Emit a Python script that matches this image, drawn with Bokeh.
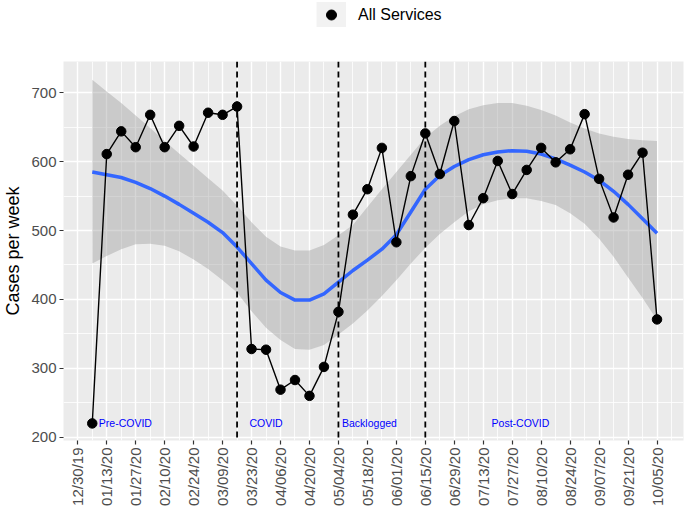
import math
import pandas as pd
from bokeh.plotting import figure
from bokeh.layouts import column
from bokeh.models import (FixedTicker, Span, Legend, LegendItem, ColumnDataSource, Range1d)
from bokeh.core.properties import value
from bokeh.embed import file_html
from bokeh.resources import INLINE

# ---------------- data ----------------
week_dates = ["01/06/20", "01/13/20", "01/20/20", "01/27/20", "02/03/20", "02/10/20",
              "02/17/20", "02/24/20", "03/02/20", "03/09/20", "03/16/20", "03/23/20",
              "03/30/20", "04/06/20", "04/13/20", "04/20/20", "04/27/20", "05/04/20",
              "05/11/20", "05/18/20", "05/25/20", "06/01/20", "06/08/20", "06/15/20",
              "06/22/20", "06/29/20", "07/06/20", "07/13/20", "07/20/20", "07/27/20",
              "08/03/20", "08/10/20", "08/17/20", "08/24/20", "08/31/20", "09/07/20",
              "09/14/20", "09/21/20", "09/28/20", "10/05/20"]
cases = [220, 611, 644, 621, 668, 621, 652, 622, 671, 668, 680, 328, 327, 269, 283, 260,
         302, 382, 523, 560, 620, 483, 579, 641, 582, 659, 508, 547, 601, 553, 588, 620,
         599, 618, 669, 575, 519, 581, 613, 371]
smooth_fit = [585, 581, 577, 570, 561, 550, 538, 525, 512, 497, 476, 452, 428, 410, 399,
              399, 408, 425, 442, 457, 473, 494, 527, 560, 580, 593, 603, 610, 614, 616,
              615, 611, 604, 595, 585, 573, 557, 538, 517, 496]
smooth_lower = [452, 463, 473, 480, 481, 478, 470, 458, 444, 428, 410, 383, 359, 341, 328,
                327, 334, 349, 365, 384, 405, 428, 452, 475, 495, 512, 528, 538, 544, 547,
                547, 543, 537, 525, 510, 488, 462, 432, 402, 370]
smooth_upper = [719, 702, 685, 667, 649, 630, 612, 594, 576, 558, 536, 512, 491, 477, 471,
                471, 479, 493, 508, 534, 560, 585, 610, 635, 652, 666, 676, 682, 685, 685,
                681, 675, 667, 657, 648, 641, 636, 633, 631, 630]

tick_labels = ["12/30/19", "01/13/20", "01/27/20", "02/10/20", "02/24/20", "03/09/20",
               "03/23/20", "04/06/20", "04/20/20", "05/04/20", "05/18/20", "06/01/20",
               "06/15/20", "06/29/20", "07/13/20", "07/27/20", "08/10/20", "08/24/20",
               "09/07/20", "09/21/20", "10/05/20"]
y_ticks = [200, 300, 400, 500, 600, 700]
y_minor = [250, 350, 450, 550, 650]

phase_breaks = ["03/16/20", "05/04/20", "06/15/20"]
phase_names = ["Pre-COVID", "COVID", "Backlogged", "Post-COVID"]
phase_label_dates = ["01/22/20", "03/30/20", "05/19/20", "07/31/20"]
phase_label_y = [220, 220, 220, 220]

legend_label = "All Services"

FONT = "Liberation Sans"
origin = pd.Timestamp("2019-12-30")


def to_days(strs):
    return [float((pd.to_datetime(s, format="%m/%d/%y") - origin).days) for s in strs]


x = to_days(week_dates)
tick_x = to_days(tick_labels)
minor_x = [t + 7 for t in tick_x]
break_x = to_days(phase_breaks)
label_x = to_days(phase_label_dates)

src = ColumnDataSource(dict(x=x, cases=cases, fit=smooth_fit,
                            lower=smooth_lower, upper=smooth_upper))

# ---------------- main plot ----------------
p = figure(width=685, height=452, output_backend="svg", toolbar_location=None,
           x_range=Range1d(-6.9, 292.8), y_range=Range1d(195.2, 745.4),
           min_border_left=62, min_border_right=2, min_border_top=0,
           min_border_bottom=73, background_fill_color="#EBEBEB",
           border_fill_color="white", outline_line_color=None)

xt = FixedTicker(ticks=tick_x, minor_ticks=minor_x)
yt = FixedTicker(ticks=y_ticks, minor_ticks=y_minor)
p.xaxis.ticker = xt
p.yaxis.ticker = yt
p.xgrid.ticker = xt
p.ygrid.ticker = yt
for g in (p.xgrid, p.ygrid):
    g.grid_line_color = "white"
    g.grid_line_width = 1.4
    g.minor_grid_line_color = "white"
    g.minor_grid_line_width = 0.8

p.varea(x="x", y1="lower", y2="upper", source=src, fill_color="#999999", fill_alpha=0.4)
p.line(x="x", y="fit", source=src, line_color="#3366FF", line_width=3.5)

p.line(x="x", y="cases", source=src, line_color="black", line_width=1.4)
p.scatter(x="x", y="cases", source=src, size=9.5, fill_color="black", line_color="black")

for bx in break_x:
    p.add_layout(Span(location=bx, dimension="height", line_color="black",
                      line_dash="6 4", line_width=1.8))

p.text(x=label_x, y=phase_label_y, text=phase_names, text_font=value(FONT),
       text_font_size="10.5px", text_color="blue", text_align="center",
       text_baseline="middle")

for ax in (p.xaxis[0], p.yaxis[0]):
    ax.axis_line_color = None
    ax.major_tick_line_color = "#333333"
    ax.major_tick_line_width = 1.2
    ax.major_tick_out = 4
    ax.major_tick_in = 0
    ax.minor_tick_line_color = None
    ax.major_label_text_font = FONT
    ax.major_label_text_font_size = "15px"
    ax.major_label_text_color = "#4D4D4D"
    ax.major_label_standoff = 3

p.xaxis.major_label_overrides = {t: lab for t, lab in zip(tick_x, tick_labels)}
p.xaxis.major_label_orientation = math.pi / 2

p.yaxis.axis_label = "Cases per week"
p.yaxis.axis_label_text_font = FONT
p.yaxis.axis_label_text_font_size = "18px"
p.yaxis.axis_label_text_font_style = "normal"
p.yaxis.axis_label_text_color = "black"
p.yaxis.axis_label_standoff = 5

# ---------------- legend strip above ----------------
lg = figure(width=685, height=61, output_backend="svg", toolbar_location=None,
            x_range=Range1d(0, 1), y_range=Range1d(0, 1), min_border=0,
            outline_line_color=None, background_fill_color="white",
            border_fill_color="white")
lg.axis.visible = False
lg.grid.visible = False
# off-range renderers that only feed the legend glyph
r_key = lg.line(x=[-10, -9], y=[-10, -10], line_color="#F2F2F2", line_width=30,
                line_cap="butt")
r_dot = lg.scatter(x=[-10], y=[-10], size=9.5, fill_color="black", line_color="black")

legend = Legend(items=[LegendItem(label=legend_label, renderers=[r_key, r_dot])],
                location=(253, 34), orientation="horizontal",
                glyph_width=30, glyph_height=25, label_height=25, label_standoff=12,
                padding=0, margin=0, spacing=0, border_line_color=None,
                background_fill_alpha=0, label_text_font=FONT,
                label_text_font_size="16px", label_text_color="black")
lg.add_layout(legend, "center")

layout = column(lg, p, spacing=0)

open("out.html", "w").write(file_html(layout, INLINE))
